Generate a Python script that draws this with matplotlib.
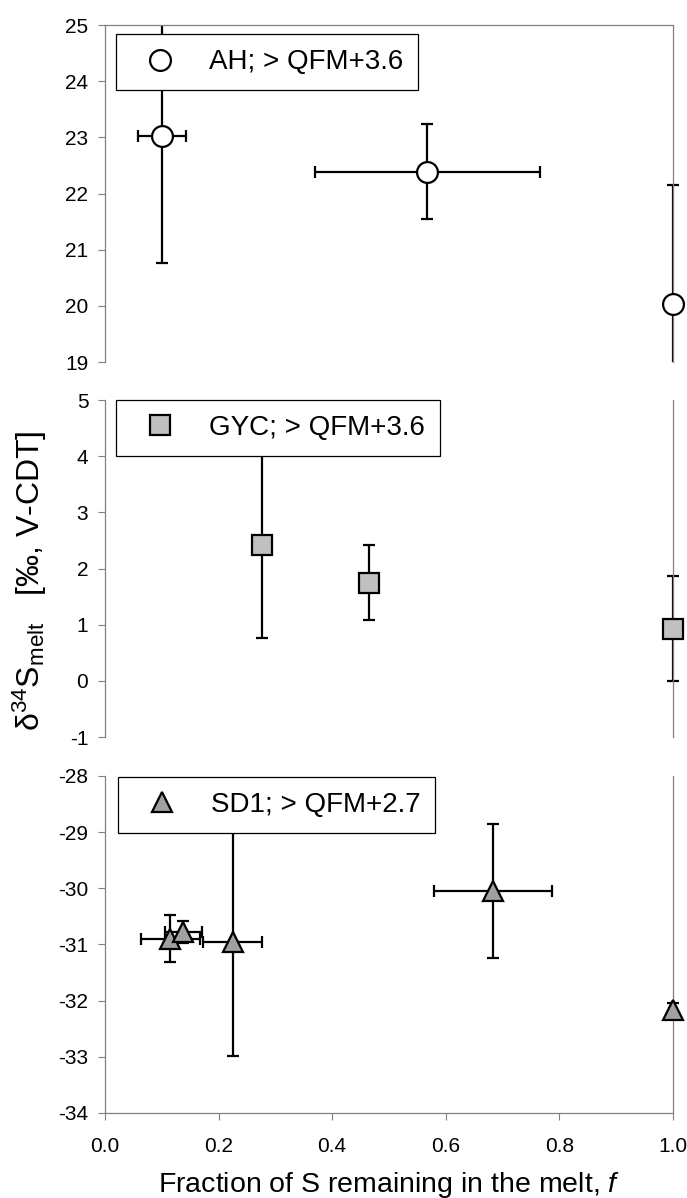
import matplotlib
matplotlib.use("Agg")
import matplotlib.pyplot as plt
from matplotlib.lines import Line2D

plt.rcParams['font.family'] = ['Liberation Sans', 'DejaVu Sans']
plt.rcParams['mathtext.fontset'] = 'custom'
plt.rcParams['mathtext.rm'] = 'Liberation Sans'
plt.rcParams['mathtext.it'] = 'Liberation Sans:italic'
plt.rcParams['mathtext.default'] = 'regular'
plt.rcParams['axes.unicode_minus'] = False

# AH (open circles)
ah_f = [0.101, 0.567, 1.0]
ah_f_err = [0.042, 0.198, 0.0]
ah_d34s = [23.03, 22.39, 20.04]
ah_d34s_err = [2.27, 0.85, 2.12]

# GYC (grey squares)
gyc_f = [0.277, 0.464, 1.0]
gyc_f_err = [0.0, 0.0, 0.0]
gyc_d34s = [2.42, 1.75, 0.93]
gyc_d34s_err = [1.66, 0.66, 0.93]

# SD1 (grey triangles)
sd1_f = [0.115, 0.138, 0.225, 0.683, 1.0]
sd1_f_err = [0.052, 0.033, 0.052, 0.104, 0.0]
sd1_d34s = [-30.90, -30.78, -30.95, -30.05, -32.17]
sd1_d34s_err = [0.42, 0.20, 2.03, 1.20, 0.13]

labels = ["AH; > QFM+3.6", "GYC; > QFM+3.6", "SD1; > QFM+2.7"]
xticks = [0.0, 0.2, 0.4, 0.6, 0.8, 1.0]
xticklabels = ["0.0", "0.2", "0.4", "0.6", "0.8", "1.0"]

spine_col = "#808080"

fig = plt.figure(figsize=(6.87, 11.98), dpi=100)
left, width = 0.1528, 0.8268
ax1 = fig.add_axes([left, 0.6978, width, 0.2813])
ax2 = fig.add_axes([left, 0.3848, width, 0.2813])
ax3 = fig.add_axes([left, 0.0710, width, 0.2813])


def panel(ax, f, ferr, d, derr, marker, face, ms, ylim, label, anchor):
    ax.set_xlim(0, 1)
    ax.set_ylim(*ylim)
    for x, xe, y, ye in zip(f, ferr, d, derr):
        _, caps, _ = ax.errorbar(x, y, xerr=xe if xe > 0 else None, yerr=ye,
                                 fmt='none', ecolor='black', elinewidth=1.6,
                                 capsize=4.5, capthick=1.6, zorder=2)
        for c in caps:
            yy = c.get_ydata()[0]
            if ylim[0] <= yy <= ylim[1]:
                c.set_clip_on(False)
    ax.plot(f, d, ls='none', marker=marker, ms=ms, mfc=face, mec='black',
            mew=1.6, clip_on=False, zorder=3)
    h = Line2D([], [], ls='none', marker=marker, ms=ms, mfc=face,
               mec='black', mew=1.6)
    leg = ax.legend([h], [label], loc='upper left', bbox_to_anchor=anchor,
                    borderaxespad=0, fancybox=False, edgecolor='black',
                    framealpha=1, fontsize=20, handlelength=2.05,
                    handletextpad=0.74, borderpad=0.54, numpoints=1)
    leg.get_frame().set_linewidth(0.9)
    ax.set_yticks(range(int(ylim[0]), int(ylim[1]) + 1))
    ax.tick_params(axis='y', direction='out', length=5, width=0.8,
                   color=spine_col, labelsize=15, pad=7)
    for s in ax.spines.values():
        s.set_color(spine_col)
        s.set_linewidth(0.9)


panel(ax1, ah_f, ah_f_err, ah_d34s, ah_d34s_err, 'o', 'white', 15,
      (19, 25), labels[0], (0.020, 0.9724))
panel(ax2, gyc_f, gyc_f_err, gyc_d34s, gyc_d34s_err, 's', '#c0c0c0', 14,
      (-1, 5), labels[1], (0.020, 1.0))
panel(ax3, sd1_f, sd1_f_err, sd1_d34s, sd1_d34s_err, '^', '#a0a0a0', 15,
      (-34, -28), labels[2], (0.023, 0.997))

ax1.spines['bottom'].set_visible(False)
ax2.spines['top'].set_visible(False)
ax2.spines['bottom'].set_visible(False)
ax3.spines['top'].set_visible(False)
for ax in (ax1, ax2):
    ax.set_xticks([])

ax3.set_xticks(xticks)
ax3.set_xticklabels(xticklabels)
ax3.tick_params(axis='x', direction='out', length=5, width=0.8,
                color=spine_col, labelsize=15, pad=12)

fig.text(left + width / 2, 0.0112, r"Fraction of S remaining in the melt, $\mathit{f}$",
         ha='center', va='center', fontsize=20.5)
fig.text(0.043, 0.515, r"$\delta^{34}S_{melt}$   [‰, V-CDT]", rotation=90,
         ha='center', va='center', fontsize=23)

fig.savefig("out.png", dpi=100)
